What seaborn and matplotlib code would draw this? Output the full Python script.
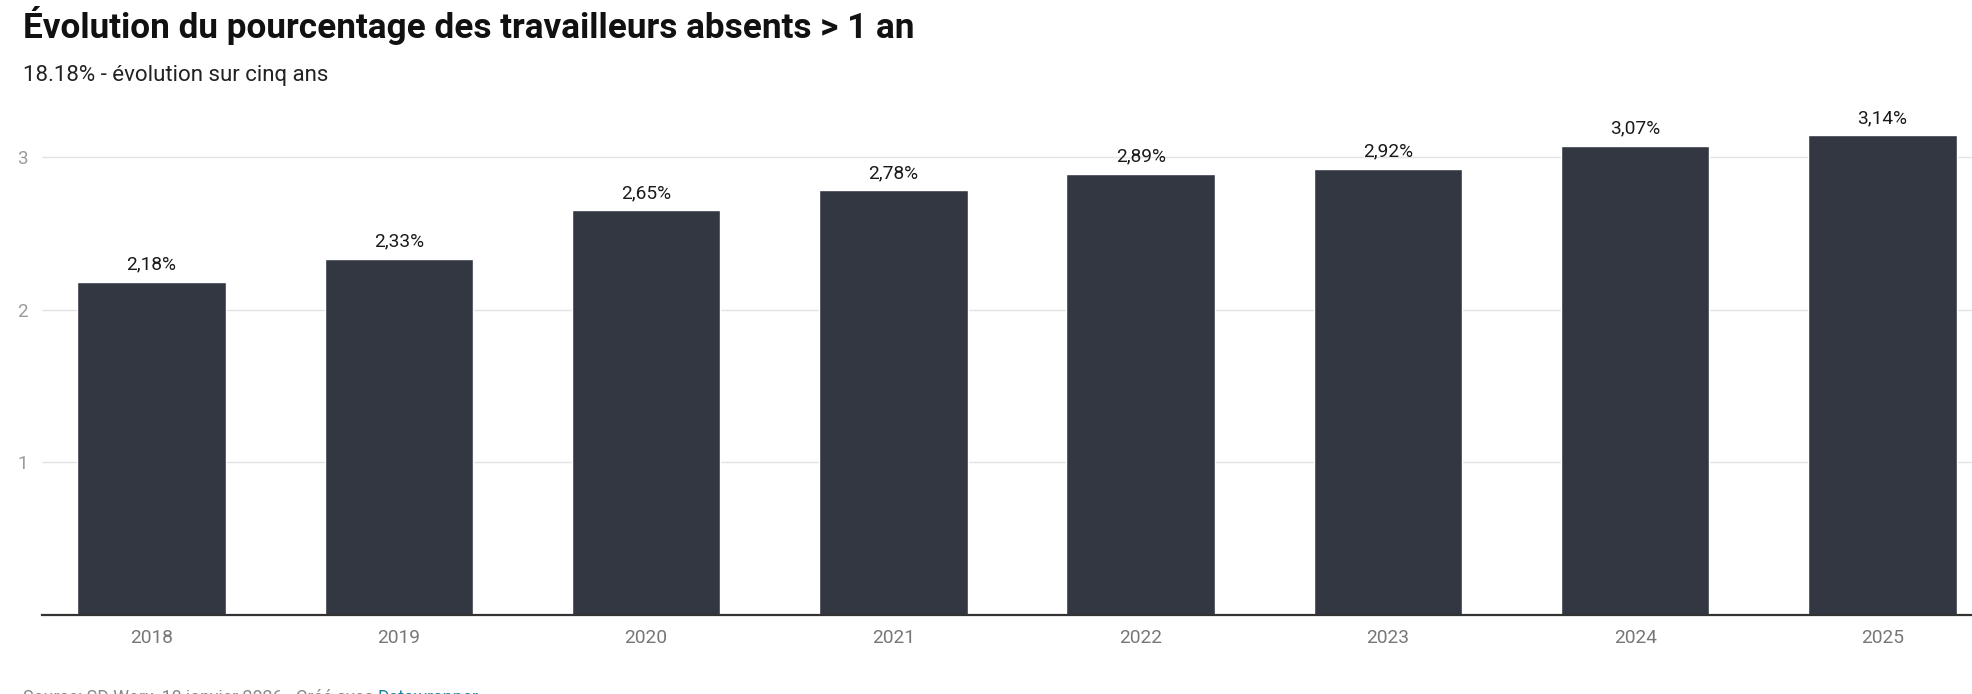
import matplotlib

matplotlib.use("Agg")
import matplotlib.pyplot as plt
import pandas as pd
import seaborn as sns

years = ["2018", "2019", "2020", "2021", "2022", "2023", "2024", "2025"]
share_absent = [2.18, 2.33, 2.65, 2.78, 2.89, 2.92, 3.07, 3.14]
y_ticks = [1, 2, 3]

title = "Évolution du pourcentage des travailleurs absents > 1 an"
subtitle = "18.18% - évolution sur cinq ans"
source = "Source: SD Worx, 10 janvier 2026 · Créé avec "
source_link = "Datawrapper"

BAR = "#333742"
W, H = 1972, 694

sns.set_theme(style="white")
plt.rcParams["font.family"] = ["Roboto", "DejaVu Sans"]

df = pd.DataFrame({"year": years, "value": share_absent})

fig = plt.figure(figsize=(W / 100, H / 100), dpi=100)
ax = fig.add_axes([42 / W, 79 / H, 1 - 42 / W, 504 / H])

sns.barplot(data=df, x="year", y="value", color=BAR, saturation=1, width=0.6, ax=ax)

ax.set_xlim(-0.443, 7.362)
ax.set_ylim(0, 3.3)
ax.set_yticks(y_ticks)
ax.yaxis.grid(True, color="#e3e3e3", linewidth=1)
ax.set_axisbelow(True)
ax.set_xlabel("")
ax.set_ylabel("")
for s in ["top", "right", "left"]:
    ax.spines[s].set_visible(False)
ax.spines["bottom"].set_color("#333333")
ax.spines["bottom"].set_linewidth(1.6)
ax.tick_params(axis="x", length=0, pad=10, labelsize=13.8, labelcolor="#777777")
ax.tick_params(axis="y", length=0, pad=14, labelsize=13.5, labelcolor="#9a9a9a")
for lbl in ax.get_yticklabels():
    lbl.set_horizontalalignment("center")

labels = [f"{v:.2f}%".replace(".", ",") for v in share_absent]
ax.bar_label(ax.containers[0], labels=labels, padding=6, fontsize=13.8,
             color="#1a1a1a", clip_on=False)

fig.text(23 / W, 1 - 38 / H, title, fontsize=25.3, fontweight="bold",
         color="#111111", va="baseline")
fig.text(23 / W, 1 - 75 / H, subtitle, fontsize=16, color="#222222", va="center")
t1 = fig.text(23 / W, 1 - 689 / H, source, fontsize=12.8, color="#888888", va="top")
ax.annotate(source_link, xy=(1, 0), xycoords=t1, va="bottom", ha="left",
            fontsize=12.8, color="#1d81a2", annotation_clip=False)

fig.savefig("out.png", dpi=100)
